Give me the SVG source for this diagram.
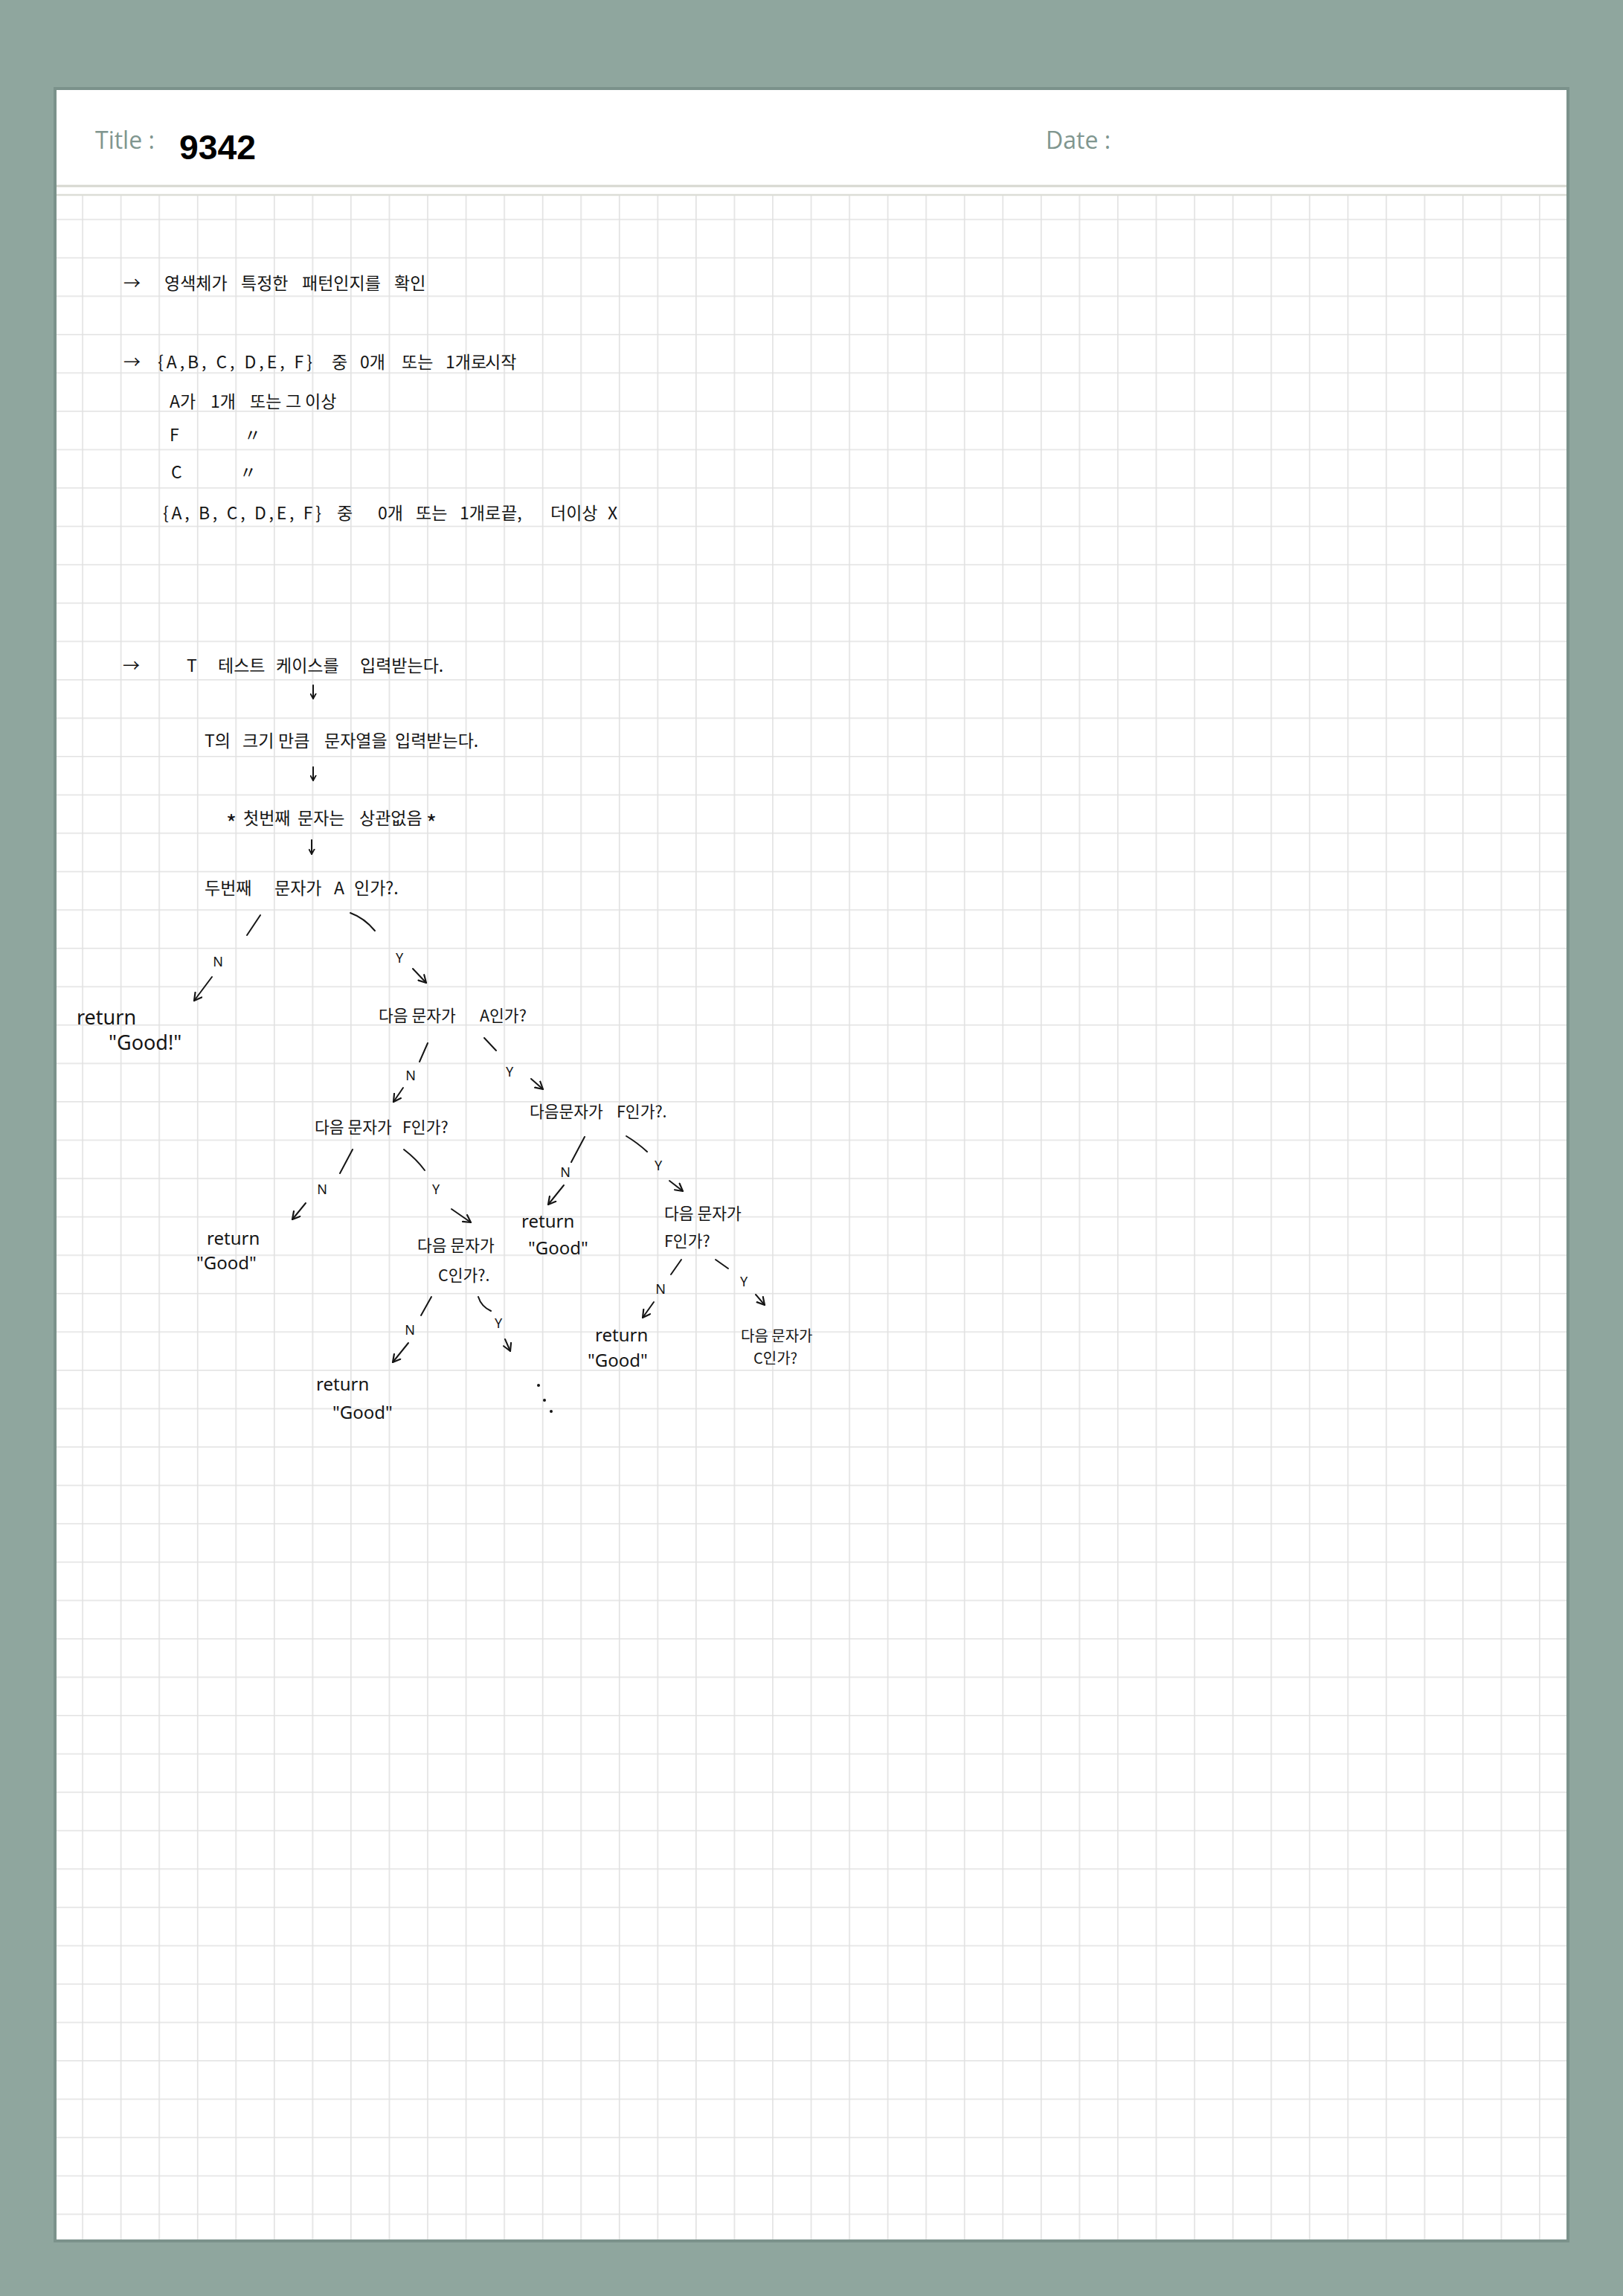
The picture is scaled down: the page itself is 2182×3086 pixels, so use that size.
<svg xmlns="http://www.w3.org/2000/svg" width="2182" height="3086" viewBox="0 0 2182 3086">
<style>
.hw{font-family:"Noto Sans CJK KR","Noto Sans",sans-serif;fill:#151515}
.s22{font-size:23px}
.s21{font-size:21.5px}
.lat{font-family:"Noto Sans","Noto Sans CJK KR",sans-serif;fill:#151515}
.r24{font-size:24px}
.r28{font-size:27px}
.ast{font-size:30px}
.lbl{font-family:"Noto Sans",sans-serif;font-size:18px;fill:#151515;text-anchor:middle}
.hdr{font-family:"Open Sans","Noto Sans",sans-serif;font-size:32px;fill:#80968f}
.ln{fill:none;stroke:#151515;stroke-width:2;stroke-linecap:round;stroke-linejoin:round}
.ar{marker-end:url(#ah)}
.ars{marker-end:url(#ahs)}
</style>
<defs>
<pattern id="grid" patternUnits="userSpaceOnUse" x="110.2" y="294.2" width="51.55" height="51.56">
<path d="M0.8,0 V51.56 M0,0.8 H51.55" fill="none" stroke="#e1e1e1" stroke-width="1.6"/>
</pattern>
<marker id="ah" viewBox="0 0 12 12" refX="10" refY="6" markerWidth="13" markerHeight="13" markerUnits="userSpaceOnUse" orient="auto">
<path d="M1,1 L10,6 L1,11" fill="none" stroke="#151515" stroke-width="2" stroke-linecap="round" stroke-linejoin="round"/>
</marker>
<marker id="ahs" viewBox="0 0 12 12" refX="10" refY="6" markerWidth="9" markerHeight="9" markerUnits="userSpaceOnUse" orient="auto">
<path d="M1,1 L10,6 L1,11" fill="none" stroke="#151515" stroke-width="2.4" stroke-linecap="round" stroke-linejoin="round"/>
</marker>
</defs>

<rect x="0" y="0" width="2182" height="3086" fill="#8fa69e"/>
<rect x="72" y="117" width="2038" height="2897" fill="#7b928b"/>
<rect x="76" y="121" width="2030" height="2889" fill="#ffffff"/>
<rect x="76" y="263" width="2030" height="2747" fill="url(#grid)"/>
<line x1="76" y1="250" x2="2106" y2="250" stroke="#d6d7cf" stroke-width="3"/>
<line x1="76" y1="262" x2="2106" y2="262" stroke="#dcddd6" stroke-width="2.5"/>

<g id="header">
<text class="hdr" x="128" y="200">Title :</text>
<text class="hdr" x="1406" y="200">Date :</text>
<text x="241" y="214" font-family="Liberation Sans, sans-serif" font-size="46" font-weight="bold" fill="#000" textLength="103" lengthAdjust="spacingAndGlyphs">9342</text>
</g>

<g id="note1" class="hw s22">
<text y="389"><tspan x="166">→</tspan><tspan x="221">영색체가</tspan><tspan x="324">특정한</tspan><tspan x="406">패턴인지를</tspan><tspan x="530">확인</tspan></text>
</g>

<g id="note2" class="hw s22">
<text y="495"><tspan x="166">→</tspan></text>
<text x="212" y="495" textLength="208" lengthAdjust="spacing">{A,B, C, D,E, F}</text>
<text y="495"><tspan x="446">중</tspan><tspan x="484">0개</tspan><tspan x="540">또는</tspan><tspan x="599">1개로</tspan><tspan x="652">시작</tspan></text>
<text y="548"><tspan x="228">A가</tspan><tspan x="283">1개</tspan><tspan x="336">또는</tspan><tspan x="384">그</tspan><tspan x="410">이상</tspan></text>
<text y="593"><tspan x="228">F</tspan><tspan x="328">〃</tspan></text>
<text y="643"><tspan x="230">C</tspan><tspan x="322">〃</tspan></text>
<text x="219" y="698" textLength="213" lengthAdjust="spacing">{A, B, C, D,E, F}</text>
<text y="698"><tspan x="453">중</tspan><tspan x="508">0개</tspan><tspan x="559">또는</tspan><tspan x="618">1개로</tspan><tspan x="674">끝,</tspan><tspan x="740">더이상</tspan><tspan x="817">X</tspan></text>
</g>

<g id="step1" class="hw s22">
<text y="903"><tspan x="165">→</tspan><tspan x="251">T</tspan><tspan x="293">테스트</tspan><tspan x="371">케이스를</tspan><tspan x="484">입력받는다.</tspan></text>
</g>
<g id="step2" class="hw s22">
<text y="1004"><tspan x="275">T의</tspan><tspan x="326">크기</tspan><tspan x="374">만큼</tspan><tspan x="436">문자열을</tspan><tspan x="531">입력받는다.</tspan></text>
</g>
<g id="step3" class="hw s22">
<text y="1108"><tspan class="ast" x="304" dy="10">*</tspan><tspan x="327" dy="-10">첫번째</tspan><tspan x="400">문자는</tspan><tspan x="483">상관없음</tspan><tspan class="ast" x="573" dy="10">*</tspan></text>
</g>
<g id="q-root" class="hw s22">
<text y="1202"><tspan x="275">두번째</tspan><tspan x="369">문자가</tspan><tspan x="449">A</tspan><tspan x="476">인가?.</tspan></text>
</g>

<g id="ret1" class="lat r28">
<text x="103" y="1377">return</text>
<text x="146" y="1411">"Good!"</text>
</g>
<g id="q-a" class="hw s21">
<text y="1373"><tspan x="509">다음 문자가</tspan><tspan x="645">A인가?</tspan></text>
</g>
<g id="q-f-left" class="hw s21">
<text y="1523"><tspan x="423">다음 문자가</tspan><tspan x="541">F인가?</tspan></text>
</g>
<g id="q-f-right" class="hw s21">
<text y="1502"><tspan x="712">다음문자가</tspan><tspan x="829">F인가?.</tspan></text>
</g>
<g id="ret2" class="lat r24">
<text x="278" y="1673">return</text>
<text x="264" y="1706">"Good"</text>
</g>
<g id="q-c-left" class="hw s21">
<text x="561" y="1682">다음 문자가</text>
<text x="589" y="1722">C인가?.</text>
</g>
<g id="ret3" class="lat r24">
<text x="701" y="1650">return</text>
<text x="710" y="1686">"Good"</text>
</g>
<g id="q-f2" class="hw s21">
<text x="893" y="1639">다음 문자가</text>
<text x="893" y="1676">F인가?</text>
</g>
<g id="ret4" class="lat r24">
<text x="425" y="1869">return</text>
<text x="447" y="1907">"Good"</text>
</g>
<g id="more" fill="#151515">
<circle cx="724" cy="1862" r="2"/>
<circle cx="732" cy="1882" r="2"/>
<circle cx="741" cy="1897" r="2"/>
</g>
<g id="ret5" class="lat r24">
<text x="800" y="1803">return</text>
<text x="790" y="1837">"Good"</text>
</g>
<g id="q-c-right" class="hw s21">
<text x="996" y="1803" font-size="20">다음 문자가</text>
<text x="1013" y="1833" font-size="20">C인가?</text>
</g>

<g id="connectors">
<path class="ln ars" d="M421,921 V939"/>
<path class="ln ars" d="M421,1031 V1049"/>
<path class="ln ars" d="M419,1129 V1148"/>

<path class="ln" d="M350,1230 L332,1257"/>
<path class="ln" d="M471,1227 Q490,1234 504,1251"/>
<path class="ln ar" d="M285,1313 L261,1345"/>
<path class="ln ar" d="M555,1302 L573,1321"/>

<path class="ln" d="M575,1402 L564,1427"/>
<path class="ln" d="M651,1395 L667,1412"/>
<path class="ln ar" d="M542,1462 L529,1481"/>
<path class="ln ar" d="M714,1450 L730,1464"/>

<path class="ln" d="M474,1545 L457,1577"/>
<path class="ln" d="M543,1545 Q560,1558 571,1573"/>
<path class="ln ar" d="M411,1617 L393,1639"/>
<path class="ln ar" d="M607,1625 L633,1643"/>

<path class="ln" d="M786,1528 L768,1562"/>
<path class="ln" d="M842,1527 Q857,1536 870,1548"/>
<path class="ln ar" d="M758,1593 L737,1619"/>
<path class="ln ar" d="M900,1587 L918,1601"/>

<path class="ln" d="M580,1743 L566,1768"/>
<path class="ln" d="M643,1743 Q647,1756 660,1762"/>
<path class="ln ar" d="M549,1805 L528,1831"/>
<path class="ln ar" d="M679,1800 L686,1816"/>

<path class="ln" d="M916,1693 L902,1713"/>
<path class="ln" d="M962,1693 L979,1705"/>
<path class="ln ar" d="M879,1750 L864,1771"/>
<path class="ln ar" d="M1016,1740 L1028,1754"/>
</g>

<g id="branch-labels">
<text class="lbl" x="293" y="1299">N</text>
<text class="lbl" x="537" y="1294">Y</text>
<text class="lbl" x="552" y="1452">N</text>
<text class="lbl" x="685" y="1447">Y</text>
<text class="lbl" x="433" y="1605">N</text>
<text class="lbl" x="586" y="1605">Y</text>
<text class="lbl" x="760" y="1582">N</text>
<text class="lbl" x="885" y="1573">Y</text>
<text class="lbl" x="551" y="1794">N</text>
<text class="lbl" x="670" y="1785">Y</text>
<text class="lbl" x="888" y="1739">N</text>
<text class="lbl" x="1000" y="1729">Y</text>
</g>
</svg>
